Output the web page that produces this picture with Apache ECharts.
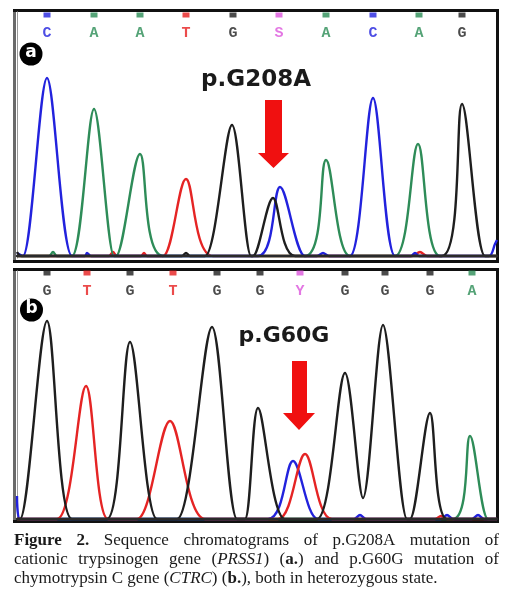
<!DOCTYPE html>
<html><head><meta charset="utf-8">
<script src="https://cdn.jsdelivr.net/npm/echarts@6/dist/echarts.min.js"></script>
<style>html,body{margin:0;padding:0;background:#fff}#c{width:510px;height:606px}</style>
</head><body><div id="c"></div>
<script>
// ---------- Panel a (PRSS1, p.G208A) ----------
const basesA = ['C','A','A','T','G','S','A','C','A','G'];
const basePosA = [30, 77, 123, 169, 216, 262, 309, 356, 402, 445];
const blueA  = [[0,3],[6,0],[30,178],[55,0],[68,0],[70,3],[74,0],[241,0],[263,69],[288,0],[300,0],[306,3],[312,0],[333,0],[356,158],[378,0],[394,0],[398,3],[402,0],[472,0],[478,12],[480,16]];
const greenA = [[0,0],[32,0],[36,4],[40,0],[55,0],[77,147],[97,0],[99,0],[123,102],[146,0],[288,0],[309,96],[333,0],[378,0],[401,112],[423,0],[480,0]];
const redA   = [[0,0],[92,0],[96,4],[100,0],[124,0],[127,3],[130,0],[146,0],[169,77],[196,0],[395,0],[403,4],[410,0],[480,0]];
const blackA = [[0,4],[4,0],[165,0],[169,3],[173,0],[188,0],[215,131],[234,0],[236,0],[256,58],[278,0],[425,0],[445,152],[468,0],[480,0]];
const mutationA = 'p.G208A';

// ---------- Panel b (CTRC, p.G60G) ----------
const basesB = ['G','T','G','T','G','G','Y','G','G','G','A'];
const basePosB = [30, 70, 113, 156, 200, 243, 283, 328, 368, 413, 455];
const blackB = [[0,0],[3,0],[30,198],[55,0],[90,0],[113,177],[140,0],[160,0],[195,192],[220,0],[228,0],[241,111],[268,0],[300,0],[328,146],[346,21],[366,194],[390,0],[393,0],[413,106],[430,0],[480,0]];
const redB   = [[0,0],[40,0],[69,133],[91,0],[120,0],[153,98],[188,0],[261,0],[288,65],[315,0],[418,0],[424,3],[430,0],[480,0]];
const blueB  = [[0,23],[3,0],[251,0],[276,58],[301,0],[337,0],[343,4],[349,0],[424,0],[430,4],[436,0],[455,0],[461,4],[467,0],[480,0]];
const greenB = [[0,0],[436,0],[453,83],[471,0],[480,0]];
const mutationB = 'p.G60G';

// ---------- Caption ----------
const captionLines = [
  '*Figure* *2.* Sequence chromatograms of p.G208A mutation of',
  'cationic trypsinogen gene (_PRSS1_) (*a.*) and p.G60G mutation of',
  'chymotrypsin C gene (_CTRC_) (*b.*), both in heterozygous state.'
];

const COL = {A:'#2b8c55', C:'#2020dd', G:'#1e1e1e', T:'#e61e1e', S:'#dc55dc', Y:'#dc55dc'};
const TRACE = {blue:'#2222dd', green:'#2e8c58', red:'#e52424', black:'#1e1e1e'};

const chart = echarts.init(document.getElementById('c'), null, {renderer:'canvas'});

function traceSeries(data, color, gi){
  return {type:'line', data, xAxisIndex:gi, yAxisIndex:gi, smooth:0.3, symbol:'none',
    lineStyle:{color, width:2.4}, silent:true, animation:false, clip:false};
}
function baseSeries(bases, pos, gi){
  return {type:'scatter', xAxisIndex:gi, yAxisIndex:gi, symbol:'rect', symbolSize:[7,5], animation:false, silent:true,
    data: pos.map((x,i)=>({value:[x,1], name:bases[i], itemStyle:{color:COL[bases[i]]},
      label:{show:true, position:'bottom', distance:8, formatter:'{b}', color:COL[bases[i]],
        fontFamily:'Liberation Mono', fontWeight:'bold', fontSize:15}}))};
}
function xAx(gi, showLine){
  return {type:'value', gridIndex:gi, min:0, max:480, z:5, splitLine:{show:false}, axisTick:{show:false}, axisLabel:{show:false},
    axisLine:{show:showLine, onZero:false, lineStyle:{color:'#2a2a2a', width:2.4}}};
}
function yAx(gi, max){
  return {type:'value', gridIndex:gi, min:0, max, show:false};
}

// caption layout (justified)
const mctx = document.createElement('canvas').getContext('2d');
const CAP_FS = 17, CAP_FAM = '"Liberation Serif", serif';
function fontOf(s){ return (s==='i'?'italic ':'') + (s==='b'?'bold ':'') + CAP_FS + 'px ' + CAP_FAM; }
function parseWord(w){
  const runs=[]; w.split(/(\*[^*]+\*|_[^_]+_)/).forEach(p=>{ if(!p) return;
    if(p[0]==='*') runs.push([p.slice(1,-1),'b']); else if(p[0]==='_') runs.push([p.slice(1,-1),'i']); else runs.push([p,'n']); });
  return runs;
}
const capEls = [];
const capX0 = 14, capW = 485, capY = [541, 560, 579];
captionLines.forEach((line, li)=>{
  const words = line.split(' ').map(parseWord);
  const widths = words.map(rs=>rs.reduce((s,[t,st])=>{mctx.font=fontOf(st); return s+mctx.measureText(t).width;},0));
  const total = widths.reduce((a,b)=>a+b,0);
  mctx.font = fontOf('n');
  const gap = li < captionLines.length-1 ? (capW-total)/(words.length-1) : mctx.measureText(' ').width;
  let x = capX0;
  words.forEach((rs,wi)=>{
    let xx = x;
    rs.forEach(([t,st])=>{
      capEls.push({type:'text', x:xx, y:capY[li], silent:true,
        style:{text:t, font:fontOf(st), fill:'#1a1a1a', textAlign:'left', textVerticalAlign:'middle'}});
      mctx.font=fontOf(st); xx += mctx.measureText(t).width;
    });
    x += widths[wi] + gap;
  });
});

function frame(top, bottom){
  return [
    {type:'line', shape:{x1:14.5, y1:top, x2:14.5, y2:bottom}, style:{stroke:'#6a6a6a', lineWidth:3}},
    {type:'line', shape:{x1:13, y1:top, x2:499, y2:top}, style:{stroke:'#111', lineWidth:3}},
    {type:'line', shape:{x1:497.5, y1:top, x2:497.5, y2:bottom}, style:{stroke:'#111', lineWidth:3}},
    {type:'line', shape:{x1:13, y1:bottom, x2:499, y2:bottom}, style:{stroke:'#111', lineWidth:3}},
    {type:'line', shape:{x1:17.5, y1:top+1, x2:17.5, y2:bottom-3}, style:{stroke:'#9a9a9a', lineWidth:1}}
  ];
}
function badge(cx, cy, letter){
  return [
    {type:'circle', shape:{cx, cy, r:11.5}, style:{fill:'#000'}},
    {type:'text', x:cx, y:cy-1, style:{text:letter, font:'bold 17px "DejaVu Sans"', fill:'#fff', textAlign:'center', textVerticalAlign:'middle'}}
  ];
}
function arrow(x1, x2, top, headTop, hx1, hx2, tip){
  const cx = (hx1+hx2)/2;
  return {type:'polygon', shape:{points:[[x1,top],[x2,top],[x2,headTop],[hx2,headTop],[cx,tip],[hx1,headTop],[x1,headTop]]}, style:{fill:'#f01010'}};
}

const option = {
  backgroundColor:'#fff',
  animation:false,
  grid:[
    {left:17, width:480, top:56, height:200},
    {left:17, width:480, top:15, height:20},
    {left:17, width:480, top:319, height:200},
    {left:17, width:480, top:273, height:20}
  ],
  xAxis:[xAx(0,true), xAx(1,false), xAx(2,true), xAx(3,false)],
  yAxis:[yAx(0,200), yAx(1,1), yAx(2,200), yAx(3,1)],
  series:[
    traceSeries(redA, TRACE.red, 0),
    traceSeries(greenA, TRACE.green, 0),
    traceSeries(blueA, TRACE.blue, 0),
    traceSeries(blackA, TRACE.black, 0),
    baseSeries(basesA, basePosA, 1),
    traceSeries(greenB, TRACE.green, 2),
    traceSeries(blueB, TRACE.blue, 2),
    traceSeries(redB, TRACE.red, 2),
    traceSeries(blackB, TRACE.black, 2),
    baseSeries(basesB, basePosB, 3)
  ],
  graphic:[
    ...frame(10.5, 261.5),
    ...frame(269.5, 521.5),
    ...badge(31, 54, 'a'),
    ...badge(31.5, 310, 'b'),
    {type:'text', x:256, y:80, style:{text:mutationA, font:'bold 23px "DejaVu Sans"', fill:'#1a1a1a', textAlign:'center', textVerticalAlign:'middle'}},
    {type:'text', x:284, y:336, style:{text:mutationB, font:'bold 22px "DejaVu Sans"', fill:'#1a1a1a', textAlign:'center', textVerticalAlign:'middle'}},
    arrow(265, 282, 100, 153, 258, 289, 168),
    arrow(292, 307, 361, 413, 283, 315, 430),
    ...capEls
  ]
};
chart.setOption(option);
</script>
</body></html>
